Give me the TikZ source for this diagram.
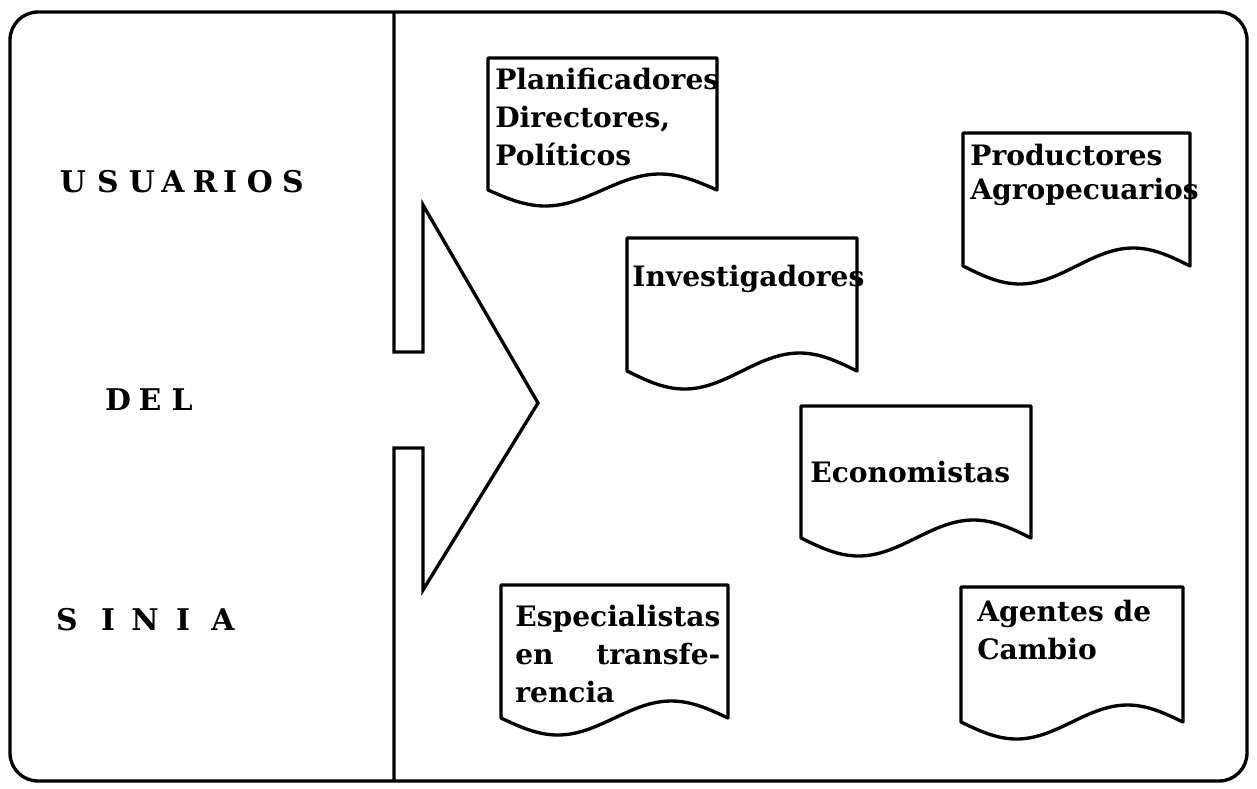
\documentclass[tikz,border=0pt]{standalone}
\usepackage{fontspec}
\usepackage{calc}
\setmainfont{DejaVu Serif}

% document shape: left, top, right, bottom, wave height
\newcommand{\docshape}[5]{%
	\pgfmathsetmacro{\qa}{#1+0.25*(#3-#1)}%
	\pgfmathsetmacro{\qb}{#1+0.5*(#3-#1)}%
	\pgfmathsetmacro{\qc}{#1+0.75*(#3-#1)}%
	\draw[docbox] (#1,#4) -- (#1,#2) -- (#3,#2) -- (#3,#4)
		sin (\qc,#4-#5) cos (\qb,#4) sin (\qa,#4+#5) cos (#1,#4) -- cycle;
}

\tikzset{
	docbox/.style={line width=1.9pt, line join=round},
	lbl/.style={anchor=north west, inner sep=0pt, align=left, font=\fontsize{16}{21.5}\selectfont\bfseries},
	ttl/.style={anchor=base, inner sep=0pt, font=\fontsize{17}{20}\selectfont\bfseries}
}

\begin{document}
\begin{tikzpicture}[x=0.02cm, y=-0.02cm]
		\useasboundingbox (0,0) rectangle (1257,788);
		% Draw frame and divider with arrow
		\draw[line width=1.9pt, rounded corners=0.56cm] (10,12) rectangle (1247,781);
		\draw[line width=1.9pt] (394,12) -- (394,352) -- (423,352) -- (423,205) -- (538,403)
			-- (423,590) -- (423,448) -- (394,448) -- (394,781);

		% Spaced title on the left
		\foreach \ch/\xx [count=\i] in {U/73, S/108, U/142, A/173, R/205, I/230, O/260, S/293}
			\node[ttl] (usr\i) at (\xx,192) {\ch};
		\foreach \ch/\xx [count=\i] in {D/118, E/150, L/182}
			\node[ttl] (del\i) at (\xx,410) {\ch};
		\foreach \ch/\xx [count=\i] in {S/67, I/108, N/145, I/183, A/223}
			\node[ttl] (sin\i) at (\xx,630) {\ch};

		% Draw documents
		\docshape{488}{58}{717}{190}{16}
		\docshape{627}{238}{857}{371}{18}
		\docshape{963}{133}{1190}{266}{18}
		\docshape{801}{406}{1031}{538}{18}
		\docshape{501}{585}{728}{718}{17}
		\docshape{961}{587}{1183}{722}{17}

		\node[lbl] (plan) at (495,68) {Planificadores\\Directores,\\Políticos};
		\node[lbl] (inv) at (632,265) {Investigadores};
		\node[lbl, font=\fontsize{16}{19}\selectfont\bfseries] (prod) at (970,144) {Productores\\Agropecuarios};
		\node[lbl] (econ) at (810,461) {Economistas};
		\node[lbl] (esp) at (515,605) {Especialistas\\\makebox[\widthof{Especialistas}][s]{en transfe-}\\rencia};
		\node[lbl] (agen) at (977,600) {Agentes de\\Cambio};
	\end{tikzpicture}
\end{document}
